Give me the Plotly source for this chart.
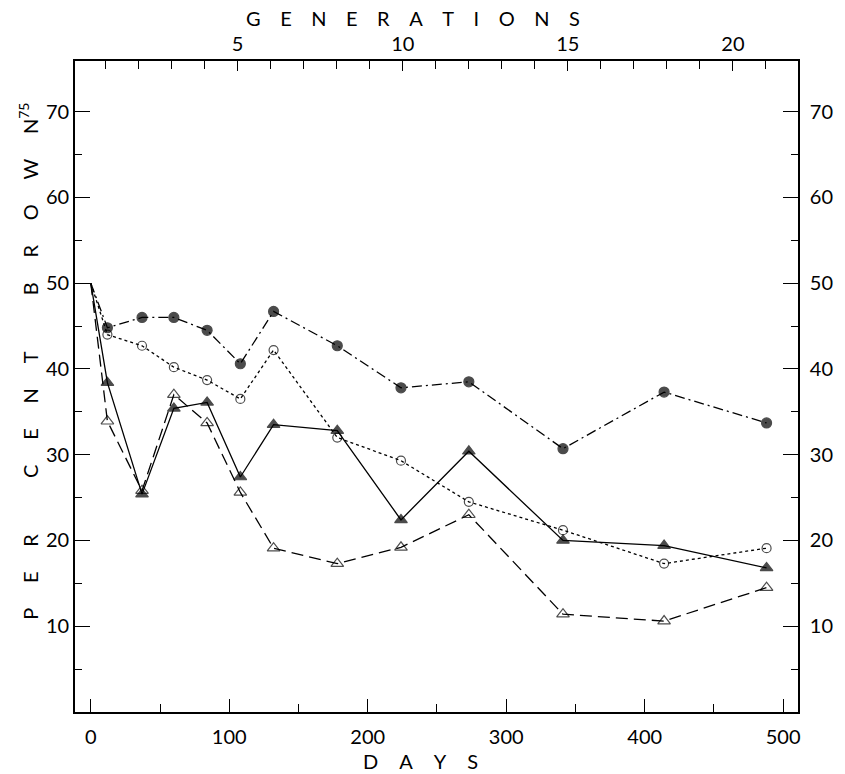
import plotly.graph_objects as go

# ---- data ----
days = [0, 12, 37, 60, 84, 108, 132, 178, 224, 273, 341, 414, 488]
filled_circle = [50, 44.8, 46.0, 46.0, 44.5, 40.6, 46.7, 42.7, 37.8, 38.5, 30.7, 37.3, 33.7]
open_circle = [50, 44.0, 42.7, 40.2, 38.7, 36.5, 42.2, 32.0, 29.3, 24.5, 21.2, 17.3, 19.1]
filled_triangle = [50, 38.4, 25.4, 35.4, 36.1, 27.4, 33.5, 32.8, 22.4, 30.4, 20.0, 19.4, 16.8]
open_triangle = [50, 33.9, 25.8, 37.0, 33.7, 25.6, 19.1, 17.3, 19.2, 23.0, 11.4, 10.6, 14.5]

day_ticks = [0, 100, 200, 300, 400, 500]
day_minor = [50, 150, 250, 350, 450]
gen_ticks = [5, 10, 15, 20]
pct_ticks = [10, 20, 30, 40, 50, 60, 70]
pct_minor = [5, 15, 25, 35, 45, 55, 65]

FONT = "Lato"
BLACK = "black"

fig = go.Figure()

def add_series(y, symbol, size, dash):
    sizes = [0] + [size] * (len(y) - 1)
    fig.add_trace(go.Scatter(
        x=days, y=y, mode="lines+markers",
        line=dict(color=BLACK, width=1.3, dash=dash),
        marker=dict(symbol=symbol, size=sizes, color=BLACK,
                    line=dict(color=BLACK, width=1.2)),
        showlegend=False, hoverinfo="skip"))

add_series(filled_circle, "circle", 10, "10px,4px,2px,4px")
add_series(open_circle, "circle-open", 9, "3px,3px")
add_series(filled_triangle, "triangle-up", 11, "solid")
add_series(open_triangle, "triangle-up-open", 11, "12px,6px")

# invisible trace to activate the mirrored axes (top generations, right percent)
fig.add_trace(go.Scatter(x=[gen_ticks[0]], y=[pct_ticks[0]], xaxis="x2", yaxis="y2",
                         mode="markers", marker=dict(opacity=0), showlegend=False,
                         hoverinfo="skip"))

axis_font = dict(family=FONT, size=20, color=BLACK)

fig.update_layout(
    width=845, height=774,
    margin=dict(l=75, r=35, t=61, b=62),
    paper_bgcolor="white", plot_bgcolor="white",
    font=dict(family=FONT, color=BLACK),
    xaxis=dict(range=[-11.4, 510.7], tickvals=day_ticks, ticks="inside", ticklen=13,
               tickwidth=1.2, tickcolor=BLACK, showline=True, linecolor=BLACK,
               linewidth=1.6, showgrid=False, zeroline=False, tickfont=axis_font,
               ticklabelstandoff=6,
               minor=dict(tickvals=day_minor, ticks="inside", ticklen=8, tickwidth=1.2,
                          tickcolor=BLACK, showgrid=False)),
    xaxis2=dict(overlaying="x", side="top", range=[0.075, 21.97], tickvals=gen_ticks,
                ticks="inside", ticklen=10, tickwidth=1.2, tickcolor=BLACK,
                showline=True, linecolor=BLACK, linewidth=1.6, showgrid=False,
                zeroline=False, tickfont=axis_font,
                minor=dict(dtick=1, tick0=0, ticks="inside", ticklen=8, tickwidth=1.2,
                           tickcolor=BLACK, showgrid=False)),
    yaxis=dict(range=[0, 75.9], tickvals=pct_ticks, ticks="inside", ticklen=15,
               tickwidth=1.2, tickcolor=BLACK, showline=True, linecolor=BLACK,
               linewidth=1.6, showgrid=False, zeroline=False, tickfont=axis_font,
               minor=dict(tickvals=pct_minor, ticks="inside", ticklen=7, tickwidth=1.2,
                          tickcolor=BLACK, showgrid=False)),
    yaxis2=dict(overlaying="y", side="right", range=[0, 75.9], tickvals=pct_ticks,
                ticks="inside", ticklen=15, tickwidth=1.2, tickcolor=BLACK,
                showline=True, linecolor=BLACK, linewidth=1.6, showgrid=False,
                zeroline=False, tickfont=axis_font, ticklabelstandoff=6,
                minor=dict(tickvals=pct_minor, ticks="inside", ticklen=7, tickwidth=1.2,
                           tickcolor=BLACK, showgrid=False)),
)

EM_PX = 15.2  # width of an em space at the 20px title size


def gap(px):
    # whole em spaces at the base size plus one smaller em space for the remainder,
    # so the line height is never enlarged
    n = int(px // EM_PX)
    r = px - n * EM_PX
    s = "\u2003" * n
    if r > 1.5:
        s += '<span style="font-size:%dpx">\u2003</span>' % round(r / 0.76)
    return s


def spaced(word, px):
    return gap(px).join(word)


title_font = dict(family=FONT, size=20, color=BLACK)
fig.add_annotation(text=spaced("GENERATIONS", 20), xref="paper", yref="paper",
                   x=0.467, y=1.066, showarrow=False, font=title_font,
                   xanchor="center", yanchor="middle")
fig.add_annotation(text=spaced("DAYS", 21), xref="paper", yref="paper",
                   x=0.478, y=-0.075, showarrow=False, font=title_font,
                   xanchor="center", yanchor="middle")
ylab = gap(57).join(spaced(w, 25) for w in ["PER", "CENT", "BROWN"]) + "<sup>75</sup>"
fig.add_annotation(text=ylab, xref="paper", yref="paper",
                   x=-0.065, y=0.538, showarrow=False, font=title_font,
                   textangle=-90, xanchor="center", yanchor="middle")

fig.write_html("out.html")
